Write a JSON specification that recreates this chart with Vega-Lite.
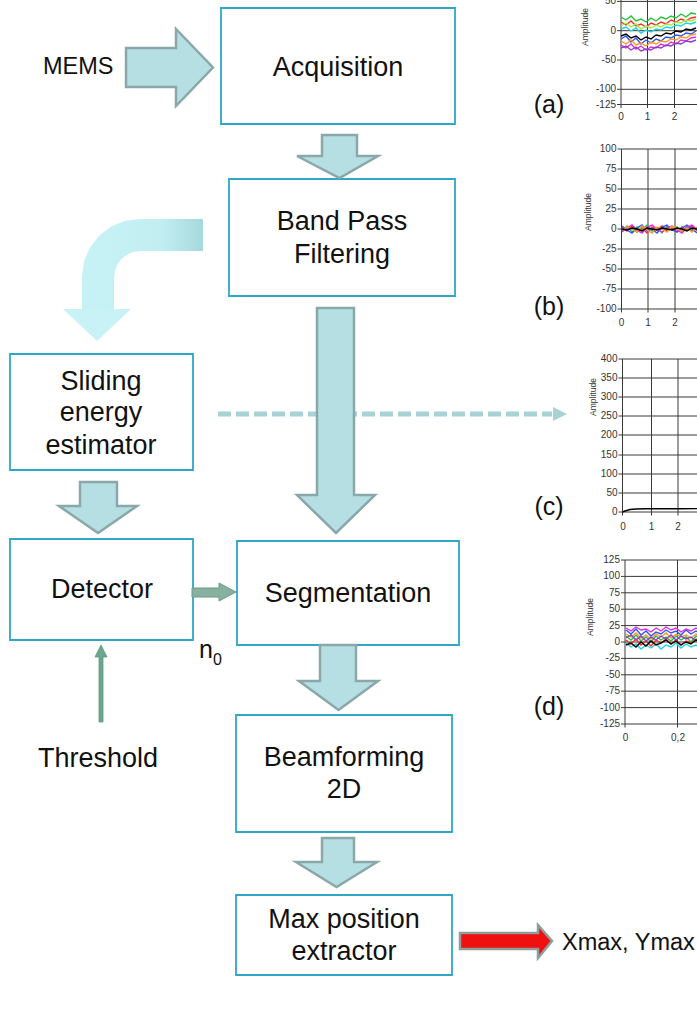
{
"$schema":"https://vega.github.io/schema/vega-lite/v6.json",
"width":697,"height":1035,"padding":0,
"autosize":{"type":"none"},
"background":"white",
"config":{"view":{"stroke":null}},
"encoding":{
"x":{"field":"x","type":"quantitative","scale":{"domain":[0,697],"nice":false,"zero":false},"axis":null},
"y":{"field":"y","type":"quantitative","scale":{"domain":[0,1035],"nice":false,"zero":false,"reverse":true},"axis":null}
},
"datasets":{
"boxes":[{"x":221,"x2":455,"y":8,"y2":124},{"x":229,"x2":455,"y":179,"y2":296},{"x":10,"x2":193,"y":354,"y2":470},{"x":10,"x2":193,"y":539,"y2":640},{"x":237,"x2":459,"y":541,"y2":645},{"x":236,"x2":452,"y":715,"y2":832},{"x":236,"x2":452,"y":895,"y2":975}],
"dashed":[{"x":218,"y":414},{"x":552,"y":414}],
"bend":[{"o":1,"x":203,"y":235},{"o":2,"x":140,"y":235},{"o":3,"x":129.1,"y":236.4},{"o":4,"x":119,"y":240.6},{"o":5,"x":110.3,"y":247.3},{"o":6,"x":103.6,"y":256},{"o":7,"x":99.4,"y":266.1},{"o":8,"x":98,"y":277},{"o":9,"x":98,"y":312}],
"bendHead":[{"y":309,"x":63,"x2":131},{"y":341,"x":97,"x2":97}],
"downArrows":[
{"id":"a1","y":135,"x":322,"x2":357},{"id":"a1","y":156,"x":322,"x2":357},{"id":"a1","y":156.01,"x":297,"x2":378},{"id":"a1","y":178,"x":339.5,"x2":339.5},
{"id":"a2","y":308,"x":317,"x2":354},{"id":"a2","y":495,"x":317,"x2":354},{"id":"a2","y":495.01,"x":297,"x2":375},{"id":"a2","y":533,"x":336,"x2":336},
{"id":"a3","y":482,"x":80,"x2":117},{"id":"a3","y":506,"x":80,"x2":117},{"id":"a3","y":506.01,"x":59,"x2":137},{"id":"a3","y":533,"x":98,"x2":98},
{"id":"a4","y":645,"x":320,"x2":356},{"id":"a4","y":681,"x":320,"x2":356},{"id":"a4","y":681.01,"x":299,"x2":378},{"id":"a4","y":710,"x":338.5,"x2":338.5},
{"id":"a5","y":838,"x":322,"x2":354},{"id":"a5","y":862,"x":322,"x2":354},{"id":"a5","y":862.01,"x":296,"x2":377},{"id":"a5","y":887,"x":336.5,"x2":336.5}],
"memsArrow":[{"x":126,"y":48,"y2":87},{"x":176,"y":48,"y2":87},{"x":176.01,"y":29,"y2":106},{"x":213,"y":67.5,"y2":67.5}],
"redArrow":[{"x":460,"y":933,"y2":949},{"x":538,"y":933,"y2":949},{"x":538.01,"y":925,"y2":958},{"x":552,"y":941,"y2":941}],
"greenArrow":[{"x":192,"y":588,"y2":597},{"x":219,"y":588,"y2":597},{"x":219.01,"y":583,"y2":601},{"x":236,"y":592,"y2":592}],
"threshArrow":[{"y":645,"x":101,"x2":101},{"y":657,"x":95,"x2":107},{"y":657.01,"x":99,"x2":103},{"y":722,"x":99,"x2":103}],
"dashHead":[{"x":553,"y":407,"y2":421},{"x":567,"y":414,"y2":414}],
"grid":[
{"x":621,"y":0,"x2":621,"y2":104.5},{"x":621,"y":104.5,"x2":697,"y2":104.5},
{"x":621,"y":1.4,"x2":697,"y2":1.4},{"x":621,"y":30.7,"x2":697,"y2":30.7},{"x":621,"y":60,"x2":697,"y2":60},{"x":621,"y":89.3,"x2":697,"y2":89.3},
{"x":647.5,"y":0,"x2":647.5,"y2":104.5},{"x":674.5,"y":0,"x2":674.5,"y2":104.5},
{"x":617,"y":1.4,"x2":621,"y2":1.4},{"x":617,"y":30.7,"x2":621,"y2":30.7},{"x":617,"y":60,"x2":621,"y2":60},{"x":617,"y":89.3,"x2":621,"y2":89.3},{"x":617,"y":104.5,"x2":621,"y2":104.5},
{"x":621,"y":104.5,"x2":621,"y2":108},{"x":647.5,"y":104.5,"x2":647.5,"y2":108},{"x":674.5,"y":104.5,"x2":674.5,"y2":108},
{"x":621.5,"y":149,"x2":621.5,"y2":309},{"x":621.5,"y":309,"x2":697,"y2":309},
{"x":621.5,"y":149,"x2":697,"y2":149},{"x":621.5,"y":169,"x2":697,"y2":169},{"x":621.5,"y":189,"x2":697,"y2":189},{"x":621.5,"y":209,"x2":697,"y2":209},{"x":621.5,"y":229,"x2":697,"y2":229},{"x":621.5,"y":249,"x2":697,"y2":249},{"x":621.5,"y":269,"x2":697,"y2":269},{"x":621.5,"y":289,"x2":697,"y2":289},
{"x":648,"y":149,"x2":648,"y2":309},{"x":675,"y":149,"x2":675,"y2":309},
{"x":617.5,"y":149,"x2":621.5,"y2":149},{"x":617.5,"y":169,"x2":621.5,"y2":169},{"x":617.5,"y":189,"x2":621.5,"y2":189},{"x":617.5,"y":209,"x2":621.5,"y2":209},{"x":617.5,"y":229,"x2":621.5,"y2":229},{"x":617.5,"y":249,"x2":621.5,"y2":249},{"x":617.5,"y":269,"x2":621.5,"y2":269},{"x":617.5,"y":289,"x2":621.5,"y2":289},{"x":617.5,"y":309,"x2":621.5,"y2":309},
{"x":621.5,"y":309,"x2":621.5,"y2":312.5},{"x":648,"y":309,"x2":648,"y2":312.5},{"x":675,"y":309,"x2":675,"y2":312.5},
{"x":622.5,"y":359,"x2":622.5,"y2":512},{"x":622.5,"y":512,"x2":697,"y2":512},
{"x":622.5,"y":359,"x2":697,"y2":359},{"x":622.5,"y":378,"x2":697,"y2":378},{"x":622.5,"y":397,"x2":697,"y2":397},{"x":622.5,"y":416,"x2":697,"y2":416},{"x":622.5,"y":435,"x2":697,"y2":435},{"x":622.5,"y":455,"x2":697,"y2":455},{"x":622.5,"y":474,"x2":697,"y2":474},{"x":622.5,"y":493,"x2":697,"y2":493},
{"x":651.5,"y":359,"x2":651.5,"y2":512},{"x":678,"y":359,"x2":678,"y2":512},
{"x":618.5,"y":359,"x2":622.5,"y2":359},{"x":618.5,"y":378,"x2":622.5,"y2":378},{"x":618.5,"y":397,"x2":622.5,"y2":397},{"x":618.5,"y":416,"x2":622.5,"y2":416},{"x":618.5,"y":435,"x2":622.5,"y2":435},{"x":618.5,"y":455,"x2":622.5,"y2":455},{"x":618.5,"y":474,"x2":622.5,"y2":474},{"x":618.5,"y":493,"x2":622.5,"y2":493},{"x":618.5,"y":512,"x2":622.5,"y2":512},
{"x":622.5,"y":512,"x2":622.5,"y2":515.5},{"x":651.5,"y":512,"x2":651.5,"y2":515.5},{"x":678,"y":512,"x2":678,"y2":515.5},
{"x":625,"y":560,"x2":625,"y2":724},{"x":625,"y":724,"x2":697,"y2":724},
{"x":625,"y":560,"x2":697,"y2":560},{"x":625,"y":576.4,"x2":697,"y2":576.4},{"x":625,"y":592.8,"x2":697,"y2":592.8},{"x":625,"y":609.2,"x2":697,"y2":609.2},{"x":625,"y":625.6,"x2":697,"y2":625.6},{"x":625,"y":642,"x2":697,"y2":642},{"x":625,"y":658.4,"x2":697,"y2":658.4},{"x":625,"y":674.8,"x2":697,"y2":674.8},{"x":625,"y":691.2,"x2":697,"y2":691.2},{"x":625,"y":707.6,"x2":697,"y2":707.6},
{"x":677.5,"y":560,"x2":677.5,"y2":724},
{"x":621,"y":560,"x2":625,"y2":560},{"x":621,"y":576.4,"x2":625,"y2":576.4},{"x":621,"y":592.8,"x2":625,"y2":592.8},{"x":621,"y":609.2,"x2":625,"y2":609.2},{"x":621,"y":625.6,"x2":625,"y2":625.6},{"x":621,"y":642,"x2":625,"y2":642},{"x":621,"y":658.4,"x2":625,"y2":658.4},{"x":621,"y":674.8,"x2":625,"y2":674.8},{"x":621,"y":691.2,"x2":625,"y2":691.2},{"x":621,"y":707.6,"x2":625,"y2":707.6},{"x":621,"y":724,"x2":625,"y2":724},
{"x":625,"y":724,"x2":625,"y2":727.5},{"x":677.5,"y":724,"x2":677.5,"y2":727.5}],
"signals":[
{"p":"a","s":"s1","x":621,"y":22},{"p":"a","s":"s1","x":626,"y":25},{"p":"a","s":"s1","x":631,"y":21},{"p":"a","s":"s1","x":636,"y":26},{"p":"a","s":"s1","x":641,"y":24},{"p":"a","s":"s1","x":646,"y":27},{"p":"a","s":"s1","x":651,"y":23},{"p":"a","s":"s1","x":656,"y":25},{"p":"a","s":"s1","x":661,"y":22},{"p":"a","s":"s1","x":666,"y":24},{"p":"a","s":"s1","x":671,"y":20},{"p":"a","s":"s1","x":676,"y":22},{"p":"a","s":"s1","x":681,"y":19},{"p":"a","s":"s1","x":686,"y":21},{"p":"a","s":"s1","x":691,"y":18},{"p":"a","s":"s1","x":696,"y":17},
{"p":"a","s":"s2","x":621,"y":17},{"p":"a","s":"s2","x":626,"y":20},{"p":"a","s":"s2","x":631,"y":16},{"p":"a","s":"s2","x":636,"y":21},{"p":"a","s":"s2","x":641,"y":19},{"p":"a","s":"s2","x":646,"y":22},{"p":"a","s":"s2","x":651,"y":18},{"p":"a","s":"s2","x":656,"y":21},{"p":"a","s":"s2","x":661,"y":17},{"p":"a","s":"s2","x":666,"y":19},{"p":"a","s":"s2","x":671,"y":16},{"p":"a","s":"s2","x":676,"y":18},{"p":"a","s":"s2","x":681,"y":14},{"p":"a","s":"s2","x":686,"y":17},{"p":"a","s":"s2","x":691,"y":13},{"p":"a","s":"s2","x":696,"y":14},
{"p":"a","s":"s3","x":621,"y":39},{"p":"a","s":"s3","x":626,"y":36},{"p":"a","s":"s3","x":631,"y":42},{"p":"a","s":"s3","x":636,"y":38},{"p":"a","s":"s3","x":641,"y":44},{"p":"a","s":"s3","x":646,"y":40},{"p":"a","s":"s3","x":651,"y":43},{"p":"a","s":"s3","x":656,"y":39},{"p":"a","s":"s3","x":661,"y":41},{"p":"a","s":"s3","x":666,"y":37},{"p":"a","s":"s3","x":671,"y":38},{"p":"a","s":"s3","x":676,"y":35},{"p":"a","s":"s3","x":681,"y":36},{"p":"a","s":"s3","x":686,"y":33},{"p":"a","s":"s3","x":691,"y":34},{"p":"a","s":"s3","x":696,"y":31},
{"p":"a","s":"s4","x":621,"y":45},{"p":"a","s":"s4","x":626,"y":48},{"p":"a","s":"s4","x":631,"y":44},{"p":"a","s":"s4","x":636,"y":49},{"p":"a","s":"s4","x":641,"y":46},{"p":"a","s":"s4","x":646,"y":50},{"p":"a","s":"s4","x":651,"y":47},{"p":"a","s":"s4","x":656,"y":48},{"p":"a","s":"s4","x":661,"y":44},{"p":"a","s":"s4","x":666,"y":46},{"p":"a","s":"s4","x":671,"y":42},{"p":"a","s":"s4","x":676,"y":44},{"p":"a","s":"s4","x":681,"y":40},{"p":"a","s":"s4","x":686,"y":41},{"p":"a","s":"s4","x":691,"y":38},{"p":"a","s":"s4","x":696,"y":37},
{"p":"a","s":"s5","x":621,"y":29},{"p":"a","s":"s5","x":626,"y":27},{"p":"a","s":"s5","x":631,"y":31},{"p":"a","s":"s5","x":636,"y":28},{"p":"a","s":"s5","x":641,"y":33},{"p":"a","s":"s5","x":646,"y":30},{"p":"a","s":"s5","x":651,"y":32},{"p":"a","s":"s5","x":656,"y":29},{"p":"a","s":"s5","x":661,"y":30},{"p":"a","s":"s5","x":666,"y":27},{"p":"a","s":"s5","x":671,"y":28},{"p":"a","s":"s5","x":676,"y":25},{"p":"a","s":"s5","x":681,"y":26},{"p":"a","s":"s5","x":686,"y":23},{"p":"a","s":"s5","x":691,"y":24},{"p":"a","s":"s5","x":696,"y":22},
{"p":"a","s":"s6","x":621,"y":41},{"p":"a","s":"s6","x":626,"y":44},{"p":"a","s":"s6","x":631,"y":40},{"p":"a","s":"s6","x":636,"y":45},{"p":"a","s":"s6","x":641,"y":43},{"p":"a","s":"s6","x":646,"y":46},{"p":"a","s":"s6","x":651,"y":42},{"p":"a","s":"s6","x":656,"y":44},{"p":"a","s":"s6","x":661,"y":41},{"p":"a","s":"s6","x":666,"y":42},{"p":"a","s":"s6","x":671,"y":39},{"p":"a","s":"s6","x":676,"y":40},{"p":"a","s":"s6","x":681,"y":37},{"p":"a","s":"s6","x":686,"y":38},{"p":"a","s":"s6","x":691,"y":35},{"p":"a","s":"s6","x":696,"y":34},
{"p":"a","s":"s8","x":621,"y":26},{"p":"a","s":"s8","x":626,"y":23},{"p":"a","s":"s8","x":631,"y":27},{"p":"a","s":"s8","x":636,"y":24},{"p":"a","s":"s8","x":641,"y":29},{"p":"a","s":"s8","x":646,"y":26},{"p":"a","s":"s8","x":651,"y":28},{"p":"a","s":"s8","x":656,"y":25},{"p":"a","s":"s8","x":661,"y":27},{"p":"a","s":"s8","x":666,"y":24},{"p":"a","s":"s8","x":671,"y":25},{"p":"a","s":"s8","x":676,"y":22},{"p":"a","s":"s8","x":681,"y":23},{"p":"a","s":"s8","x":686,"y":20},{"p":"a","s":"s8","x":691,"y":21},{"p":"a","s":"s8","x":696,"y":19},
{"p":"a","s":"s9","x":621,"y":48},{"p":"a","s":"s9","x":626,"y":46},{"p":"a","s":"s9","x":631,"y":50},{"p":"a","s":"s9","x":636,"y":47},{"p":"a","s":"s9","x":641,"y":51},{"p":"a","s":"s9","x":646,"y":49},{"p":"a","s":"s9","x":651,"y":50},{"p":"a","s":"s9","x":656,"y":47},{"p":"a","s":"s9","x":661,"y":48},{"p":"a","s":"s9","x":666,"y":45},{"p":"a","s":"s9","x":671,"y":46},{"p":"a","s":"s9","x":676,"y":43},{"p":"a","s":"s9","x":681,"y":44},{"p":"a","s":"s9","x":686,"y":41},{"p":"a","s":"s9","x":691,"y":42},{"p":"a","s":"s9","x":696,"y":40},
{"p":"a","s":"s7","x":621,"y":36},{"p":"a","s":"s7","x":626,"y":34},{"p":"a","s":"s7","x":631,"y":38},{"p":"a","s":"s7","x":636,"y":36},{"p":"a","s":"s7","x":641,"y":40},{"p":"a","s":"s7","x":646,"y":37},{"p":"a","s":"s7","x":651,"y":39},{"p":"a","s":"s7","x":656,"y":35},{"p":"a","s":"s7","x":661,"y":36},{"p":"a","s":"s7","x":666,"y":33},{"p":"a","s":"s7","x":671,"y":34},{"p":"a","s":"s7","x":676,"y":31},{"p":"a","s":"s7","x":681,"y":32},{"p":"a","s":"s7","x":686,"y":29},{"p":"a","s":"s7","x":691,"y":30},{"p":"a","s":"s7","x":696,"y":28},
{"p":"b","s":"s1","x":622,"y":227},{"p":"b","s":"s1","x":627,"y":231},{"p":"b","s":"s1","x":632,"y":226},{"p":"b","s":"s1","x":637,"y":232},{"p":"b","s":"s1","x":642,"y":228},{"p":"b","s":"s1","x":647,"y":233},{"p":"b","s":"s1","x":652,"y":227},{"p":"b","s":"s1","x":657,"y":230},{"p":"b","s":"s1","x":662,"y":226},{"p":"b","s":"s1","x":667,"y":231},{"p":"b","s":"s1","x":672,"y":228},{"p":"b","s":"s1","x":677,"y":232},{"p":"b","s":"s1","x":682,"y":227},{"p":"b","s":"s1","x":687,"y":230},{"p":"b","s":"s1","x":692,"y":226},{"p":"b","s":"s1","x":697,"y":231},
{"p":"b","s":"s2","x":622,"y":231},{"p":"b","s":"s2","x":627,"y":226},{"p":"b","s":"s2","x":632,"y":232},{"p":"b","s":"s2","x":637,"y":227},{"p":"b","s":"s2","x":642,"y":230},{"p":"b","s":"s2","x":647,"y":225},{"p":"b","s":"s2","x":652,"y":231},{"p":"b","s":"s2","x":657,"y":228},{"p":"b","s":"s2","x":662,"y":233},{"p":"b","s":"s2","x":667,"y":226},{"p":"b","s":"s2","x":672,"y":230},{"p":"b","s":"s2","x":677,"y":227},{"p":"b","s":"s2","x":682,"y":232},{"p":"b","s":"s2","x":687,"y":226},{"p":"b","s":"s2","x":692,"y":231},{"p":"b","s":"s2","x":697,"y":228},
{"p":"b","s":"s3","x":622,"y":226},{"p":"b","s":"s3","x":627,"y":230},{"p":"b","s":"s3","x":632,"y":233},{"p":"b","s":"s3","x":637,"y":228},{"p":"b","s":"s3","x":642,"y":225},{"p":"b","s":"s3","x":647,"y":231},{"p":"b","s":"s3","x":652,"y":229},{"p":"b","s":"s3","x":657,"y":233},{"p":"b","s":"s3","x":662,"y":227},{"p":"b","s":"s3","x":667,"y":225},{"p":"b","s":"s3","x":672,"y":230},{"p":"b","s":"s3","x":677,"y":232},{"p":"b","s":"s3","x":682,"y":228},{"p":"b","s":"s3","x":687,"y":225},{"p":"b","s":"s3","x":692,"y":229},{"p":"b","s":"s3","x":697,"y":233},
{"p":"b","s":"s4","x":622,"y":232},{"p":"b","s":"s4","x":627,"y":228},{"p":"b","s":"s4","x":632,"y":225},{"p":"b","s":"s4","x":637,"y":230},{"p":"b","s":"s4","x":642,"y":233},{"p":"b","s":"s4","x":647,"y":227},{"p":"b","s":"s4","x":652,"y":225},{"p":"b","s":"s4","x":657,"y":229},{"p":"b","s":"s4","x":662,"y":232},{"p":"b","s":"s4","x":667,"y":228},{"p":"b","s":"s4","x":672,"y":226},{"p":"b","s":"s4","x":677,"y":230},{"p":"b","s":"s4","x":682,"y":233},{"p":"b","s":"s4","x":687,"y":227},{"p":"b","s":"s4","x":692,"y":225},{"p":"b","s":"s4","x":697,"y":230},
{"p":"b","s":"s6","x":622,"y":230},{"p":"b","s":"s6","x":627,"y":227},{"p":"b","s":"s6","x":632,"y":229},{"p":"b","s":"s6","x":637,"y":232},{"p":"b","s":"s6","x":642,"y":226},{"p":"b","s":"s6","x":647,"y":230},{"p":"b","s":"s6","x":652,"y":233},{"p":"b","s":"s6","x":657,"y":227},{"p":"b","s":"s6","x":662,"y":229},{"p":"b","s":"s6","x":667,"y":232},{"p":"b","s":"s6","x":672,"y":226},{"p":"b","s":"s6","x":677,"y":229},{"p":"b","s":"s6","x":682,"y":231},{"p":"b","s":"s6","x":687,"y":228},{"p":"b","s":"s6","x":692,"y":232},{"p":"b","s":"s6","x":697,"y":227},
{"p":"b","s":"s7","x":622,"y":229},{"p":"b","s":"s7","x":627,"y":230},{"p":"b","s":"s7","x":632,"y":228},{"p":"b","s":"s7","x":637,"y":229},{"p":"b","s":"s7","x":642,"y":231},{"p":"b","s":"s7","x":647,"y":228},{"p":"b","s":"s7","x":652,"y":229},{"p":"b","s":"s7","x":657,"y":230},{"p":"b","s":"s7","x":662,"y":228},{"p":"b","s":"s7","x":667,"y":229},{"p":"b","s":"s7","x":672,"y":230},{"p":"b","s":"s7","x":677,"y":228},{"p":"b","s":"s7","x":682,"y":229},{"p":"b","s":"s7","x":687,"y":231},{"p":"b","s":"s7","x":692,"y":228},{"p":"b","s":"s7","x":697,"y":229},
{"p":"c","s":"s7","x":622.5,"y":512},{"p":"c","s":"s7","x":625,"y":511},{"p":"c","s":"s7","x":630,"y":509.5},{"p":"c","s":"s7","x":636,"y":509},{"p":"c","s":"s7","x":645,"y":508.8},{"p":"c","s":"s7","x":660,"y":508.7},{"p":"c","s":"s7","x":680,"y":508.7},{"p":"c","s":"s7","x":697,"y":508.6},
{"p":"d","s":"s3","x":626,"y":630},{"p":"d","s":"s3","x":631,"y":634},{"p":"d","s":"s3","x":636,"y":629},{"p":"d","s":"s3","x":641,"y":635},{"p":"d","s":"s3","x":646,"y":631},{"p":"d","s":"s3","x":651,"y":636},{"p":"d","s":"s3","x":656,"y":632},{"p":"d","s":"s3","x":661,"y":634},{"p":"d","s":"s3","x":666,"y":630},{"p":"d","s":"s3","x":671,"y":633},{"p":"d","s":"s3","x":676,"y":631},{"p":"d","s":"s3","x":681,"y":635},{"p":"d","s":"s3","x":686,"y":630},{"p":"d","s":"s3","x":691,"y":634},{"p":"d","s":"s3","x":696,"y":631},{"p":"d","s":"s3","x":701,"y":633},
{"p":"d","s":"s2","x":626,"y":636},{"p":"d","s":"s2","x":631,"y":640},{"p":"d","s":"s2","x":636,"y":635},{"p":"d","s":"s2","x":641,"y":641},{"p":"d","s":"s2","x":646,"y":637},{"p":"d","s":"s2","x":651,"y":642},{"p":"d","s":"s2","x":656,"y":636},{"p":"d","s":"s2","x":661,"y":640},{"p":"d","s":"s2","x":666,"y":637},{"p":"d","s":"s2","x":671,"y":641},{"p":"d","s":"s2","x":676,"y":636},{"p":"d","s":"s2","x":681,"y":640},{"p":"d","s":"s2","x":686,"y":637},{"p":"d","s":"s2","x":691,"y":642},{"p":"d","s":"s2","x":696,"y":636},{"p":"d","s":"s2","x":701,"y":639},
{"p":"d","s":"s1","x":626,"y":640},{"p":"d","s":"s1","x":631,"y":644},{"p":"d","s":"s1","x":636,"y":639},{"p":"d","s":"s1","x":641,"y":645},{"p":"d","s":"s1","x":646,"y":641},{"p":"d","s":"s1","x":651,"y":646},{"p":"d","s":"s1","x":656,"y":640},{"p":"d","s":"s1","x":661,"y":643},{"p":"d","s":"s1","x":666,"y":639},{"p":"d","s":"s1","x":671,"y":644},{"p":"d","s":"s1","x":676,"y":640},{"p":"d","s":"s1","x":681,"y":645},{"p":"d","s":"s1","x":686,"y":641},{"p":"d","s":"s1","x":691,"y":643},{"p":"d","s":"s1","x":696,"y":639},{"p":"d","s":"s1","x":701,"y":642},
{"p":"d","s":"s5","x":626,"y":643},{"p":"d","s":"s5","x":631,"y":647},{"p":"d","s":"s5","x":636,"y":644},{"p":"d","s":"s5","x":641,"y":649},{"p":"d","s":"s5","x":646,"y":645},{"p":"d","s":"s5","x":651,"y":648},{"p":"d","s":"s5","x":656,"y":644},{"p":"d","s":"s5","x":661,"y":649},{"p":"d","s":"s5","x":666,"y":645},{"p":"d","s":"s5","x":671,"y":647},{"p":"d","s":"s5","x":676,"y":643},{"p":"d","s":"s5","x":681,"y":648},{"p":"d","s":"s5","x":686,"y":644},{"p":"d","s":"s5","x":691,"y":647},{"p":"d","s":"s5","x":696,"y":645},{"p":"d","s":"s5","x":701,"y":648},
{"p":"d","s":"s4","x":626,"y":628},{"p":"d","s":"s4","x":631,"y":631},{"p":"d","s":"s4","x":636,"y":627},{"p":"d","s":"s4","x":641,"y":630},{"p":"d","s":"s4","x":646,"y":629},{"p":"d","s":"s4","x":651,"y":632},{"p":"d","s":"s4","x":656,"y":628},{"p":"d","s":"s4","x":661,"y":631},{"p":"d","s":"s4","x":666,"y":627},{"p":"d","s":"s4","x":671,"y":630},{"p":"d","s":"s4","x":676,"y":628},{"p":"d","s":"s4","x":681,"y":632},{"p":"d","s":"s4","x":686,"y":629},{"p":"d","s":"s4","x":691,"y":631},{"p":"d","s":"s4","x":696,"y":628},{"p":"d","s":"s4","x":701,"y":630},
{"p":"d","s":"s6","x":626,"y":634},{"p":"d","s":"s6","x":631,"y":637},{"p":"d","s":"s6","x":636,"y":633},{"p":"d","s":"s6","x":641,"y":638},{"p":"d","s":"s6","x":646,"y":635},{"p":"d","s":"s6","x":651,"y":639},{"p":"d","s":"s6","x":656,"y":634},{"p":"d","s":"s6","x":661,"y":637},{"p":"d","s":"s6","x":666,"y":633},{"p":"d","s":"s6","x":671,"y":638},{"p":"d","s":"s6","x":676,"y":634},{"p":"d","s":"s6","x":681,"y":637},{"p":"d","s":"s6","x":686,"y":635},{"p":"d","s":"s6","x":691,"y":638},{"p":"d","s":"s6","x":696,"y":634},{"p":"d","s":"s6","x":701,"y":636},
{"p":"d","s":"s9","x":626,"y":638},{"p":"d","s":"s9","x":631,"y":635},{"p":"d","s":"s9","x":636,"y":640},{"p":"d","s":"s9","x":641,"y":636},{"p":"d","s":"s9","x":646,"y":641},{"p":"d","s":"s9","x":651,"y":637},{"p":"d","s":"s9","x":656,"y":640},{"p":"d","s":"s9","x":661,"y":636},{"p":"d","s":"s9","x":666,"y":639},{"p":"d","s":"s9","x":671,"y":635},{"p":"d","s":"s9","x":676,"y":640},{"p":"d","s":"s9","x":681,"y":636},{"p":"d","s":"s9","x":686,"y":639},{"p":"d","s":"s9","x":691,"y":637},{"p":"d","s":"s9","x":696,"y":641},{"p":"d","s":"s9","x":701,"y":637},
{"p":"d","s":"s7","x":626,"y":645},{"p":"d","s":"s7","x":631,"y":643},{"p":"d","s":"s7","x":636,"y":647},{"p":"d","s":"s7","x":641,"y":642},{"p":"d","s":"s7","x":646,"y":646},{"p":"d","s":"s7","x":651,"y":641},{"p":"d","s":"s7","x":656,"y":645},{"p":"d","s":"s7","x":661,"y":643},{"p":"d","s":"s7","x":666,"y":640},{"p":"d","s":"s7","x":671,"y":644},{"p":"d","s":"s7","x":676,"y":641},{"p":"d","s":"s7","x":681,"y":645},{"p":"d","s":"s7","x":686,"y":642},{"p":"d","s":"s7","x":691,"y":644},{"p":"d","s":"s7","x":696,"y":640},{"p":"d","s":"s7","x":701,"y":643}],
"boxText":[{"x":338,"y":76,"t":"Acquisition"},{"x":342,"y":230,"t":"Band Pass"},{"x":342,"y":263,"t":"Filtering"},{"x":101,"y":390,"t":"Sliding"},{"x":101,"y":421,"t":"energy"},{"x":101,"y":454,"t":"estimator"},{"x":102,"y":598,"t":"Detector"},{"x":348,"y":602,"t":"Segmentation"},{"x":344,"y":766,"t":"Beamforming"},{"x":344,"y":798,"t":"2D"},{"x":344,"y":928,"t":"Max position"},{"x":344,"y":960,"t":"extractor"},{"x":98,"y":767,"t":"Threshold"}],
"sideText":[{"x":43,"y":74,"t":"MEMS"},{"x":562,"y":950,"t":"Xmax, Ymax"}],
"nText":[{"x":199,"y":658,"t":"n"}],
"subText":[{"x":213,"y":665,"t":"0"}],
"panelText":[{"x":549,"y":105,"t":"(a)"},{"x":549,"y":307,"t":"(b)"},{"x":549,"y":507,"t":"(c)"},{"x":549,"y":707,"t":"(d)"}],
"tickLeft":[
{"x":616,"y":1.4,"t":"50"},{"x":616,"y":30.7,"t":"0"},{"x":616,"y":60,"t":"-50"},{"x":616,"y":89.3,"t":"-100"},{"x":616,"y":104.5,"t":"-125"},
{"x":616.5,"y":149,"t":"100"},{"x":616.5,"y":169,"t":"75"},{"x":616.5,"y":189,"t":"50"},{"x":616.5,"y":209,"t":"25"},{"x":616.5,"y":229,"t":"0"},{"x":616.5,"y":249,"t":"-25"},{"x":616.5,"y":269,"t":"-50"},{"x":616.5,"y":289,"t":"-75"},{"x":616.5,"y":309,"t":"-100"},
{"x":617.5,"y":359,"t":"400"},{"x":617.5,"y":378,"t":"350"},{"x":617.5,"y":397,"t":"300"},{"x":617.5,"y":416,"t":"250"},{"x":617.5,"y":435,"t":"200"},{"x":617.5,"y":455,"t":"150"},{"x":617.5,"y":474,"t":"100"},{"x":617.5,"y":493,"t":"50"},{"x":617.5,"y":512,"t":"0"},
{"x":620,"y":560,"t":"125"},{"x":620,"y":576.4,"t":"100"},{"x":620,"y":592.8,"t":"75"},{"x":620,"y":609.2,"t":"50"},{"x":620,"y":625.6,"t":"25"},{"x":620,"y":642,"t":"0"},{"x":620,"y":658.4,"t":"-25"},{"x":620,"y":674.8,"t":"-50"},{"x":620,"y":691.2,"t":"-75"},{"x":620,"y":707.6,"t":"-100"},{"x":620,"y":724,"t":"-125"}],
"tickBottom":[{"x":621,"y":117,"t":"0"},{"x":647.5,"y":117,"t":"1"},{"x":674.5,"y":117,"t":"2"},{"x":621.5,"y":323,"t":"0"},{"x":648,"y":323,"t":"1"},{"x":675,"y":323,"t":"2"},{"x":623,"y":527,"t":"0"},{"x":651.5,"y":527,"t":"1"},{"x":678,"y":527,"t":"2"},{"x":625.5,"y":738,"t":"0"},{"x":678,"y":738,"t":"0,2"}],
"ampText":[{"x":585,"y":27,"t":"Amplitude"},{"x":588,"y":212,"t":"Amplitude"},{"x":593,"y":397,"t":"Amplitude"},{"x":590,"y":617,"t":"Amplitude"}]
},
"layer":[
{"data":{"name":"boxes"},"mark":{"type":"rect","fill":"#8c9a9c","opacity":0.35,"xOffset":1.5,"yOffset":3},"encoding":{"x2":{"field":"x2"},"y2":{"field":"y2"}}},
{"data":{"name":"boxes"},"mark":{"type":"rect","fill":"white","stroke":"#2fa6c6","strokeWidth":1.8},"encoding":{"x2":{"field":"x2"},"y2":{"field":"y2"}}},
{"data":{"name":"dashed"},"mark":{"type":"line","stroke":"#a9d2d6","strokeWidth":5,"strokeDash":[13,5]},"encoding":{}},
{"data":{"name":"bend"},"mark":{"type":"line","strokeWidth":32,"strokeCap":"butt","strokeJoin":"round","stroke":{"gradient":"linear","x1":0,"y1":0,"x2":1,"y2":0,"stops":[{"offset":0,"color":"#c6f2f6"},{"offset":0.6,"color":"#c2eef2"},{"offset":1,"color":"#a5d9dd"}]}},"encoding":{"order":{"field":"o","type":"quantitative"}}},
{"data":{"name":"bendHead"},"mark":{"type":"area","orient":"horizontal","fill":"#c8f2f6"},"encoding":{"x2":{"field":"x2"}}},
{"data":{"name":"downArrows"},"mark":{"type":"area","orient":"horizontal","fill":"#b6dfe3","stroke":"#8aa7a9","strokeWidth":2.5,"strokeJoin":"miter"},"encoding":{"x2":{"field":"x2"},"detail":{"field":"id"}}},
{"data":{"name":"memsArrow"},"mark":{"type":"area","orient":"vertical","fill":"#b6dfe3","stroke":"#8aa7a9","strokeWidth":2.5,"strokeJoin":"miter"},"encoding":{"y2":{"field":"y2"}}},
{"data":{"name":"redArrow"},"mark":{"type":"area","orient":"vertical","fill":"#f01010","stroke":"#8f9c9c","strokeWidth":2.5,"strokeJoin":"miter"},"encoding":{"y2":{"field":"y2"}}},
{"data":{"name":"greenArrow"},"mark":{"type":"area","orient":"vertical","fill":"#86b09f","stroke":"#6e9a88","strokeWidth":1},"encoding":{"y2":{"field":"y2"}}},
{"data":{"name":"threshArrow"},"mark":{"type":"area","orient":"horizontal","fill":"#6aa88e","stroke":"#5a9880","strokeWidth":0.8},"encoding":{"x2":{"field":"x2"}}},
{"data":{"name":"dashHead"},"mark":{"type":"area","orient":"vertical","fill":"#a9d2d6"},"encoding":{"y2":{"field":"y2"}}},
{"data":{"name":"grid"},"mark":{"type":"rule","color":"#3a3a3a","strokeWidth":1},"encoding":{"x2":{"field":"x2"},"y2":{"field":"y2"}}},
{"data":{"name":"signals"},"mark":{"type":"line","strokeWidth":1.4},"encoding":{"color":{"field":"s","type":"nominal","scale":{"domain":["s1","s2","s3","s4","s5","s6","s7","s8","s9"],"range":["#ff2a2a","#1fc43a","#2f55ff","#e12de1","#1ed3e6","#ff9a1f","#000000","#9ef03a","#8a3fd0"]},"legend":null},"detail":{"field":"p"}}},
{"data":{"name":"boxText"},"mark":{"type":"text","font":"Liberation Sans","fontSize":27,"align":"center","baseline":"alphabetic","color":"#111"},"encoding":{"text":{"field":"t"}}},
{"data":{"name":"sideText"},"mark":{"type":"text","font":"Liberation Sans","fontSize":23.5,"align":"left","baseline":"alphabetic","color":"#111"},"encoding":{"text":{"field":"t"}}},
{"data":{"name":"nText"},"mark":{"type":"text","font":"Liberation Sans","fontSize":25,"align":"left","baseline":"alphabetic","color":"#111"},"encoding":{"text":{"field":"t"}}},
{"data":{"name":"subText"},"mark":{"type":"text","font":"Liberation Sans","fontSize":16,"align":"left","baseline":"alphabetic","color":"#111"},"encoding":{"text":{"field":"t"}}},
{"data":{"name":"panelText"},"mark":{"type":"text","font":"Liberation Sans","fontSize":25,"align":"center","baseline":"middle","color":"#111"},"encoding":{"text":{"field":"t"}}},
{"data":{"name":"tickLeft"},"mark":{"type":"text","font":"Liberation Sans","fontSize":10,"align":"right","baseline":"middle","color":"#333"},"encoding":{"text":{"field":"t"}}},
{"data":{"name":"tickBottom"},"mark":{"type":"text","font":"Liberation Sans","fontSize":10,"align":"center","baseline":"middle","color":"#333"},"encoding":{"text":{"field":"t"}}},
{"data":{"name":"ampText"},"mark":{"type":"text","font":"Liberation Sans","fontSize":8.5,"align":"center","baseline":"middle","angle":270,"color":"#333"},"encoding":{"text":{"field":"t"}}}
]
}
